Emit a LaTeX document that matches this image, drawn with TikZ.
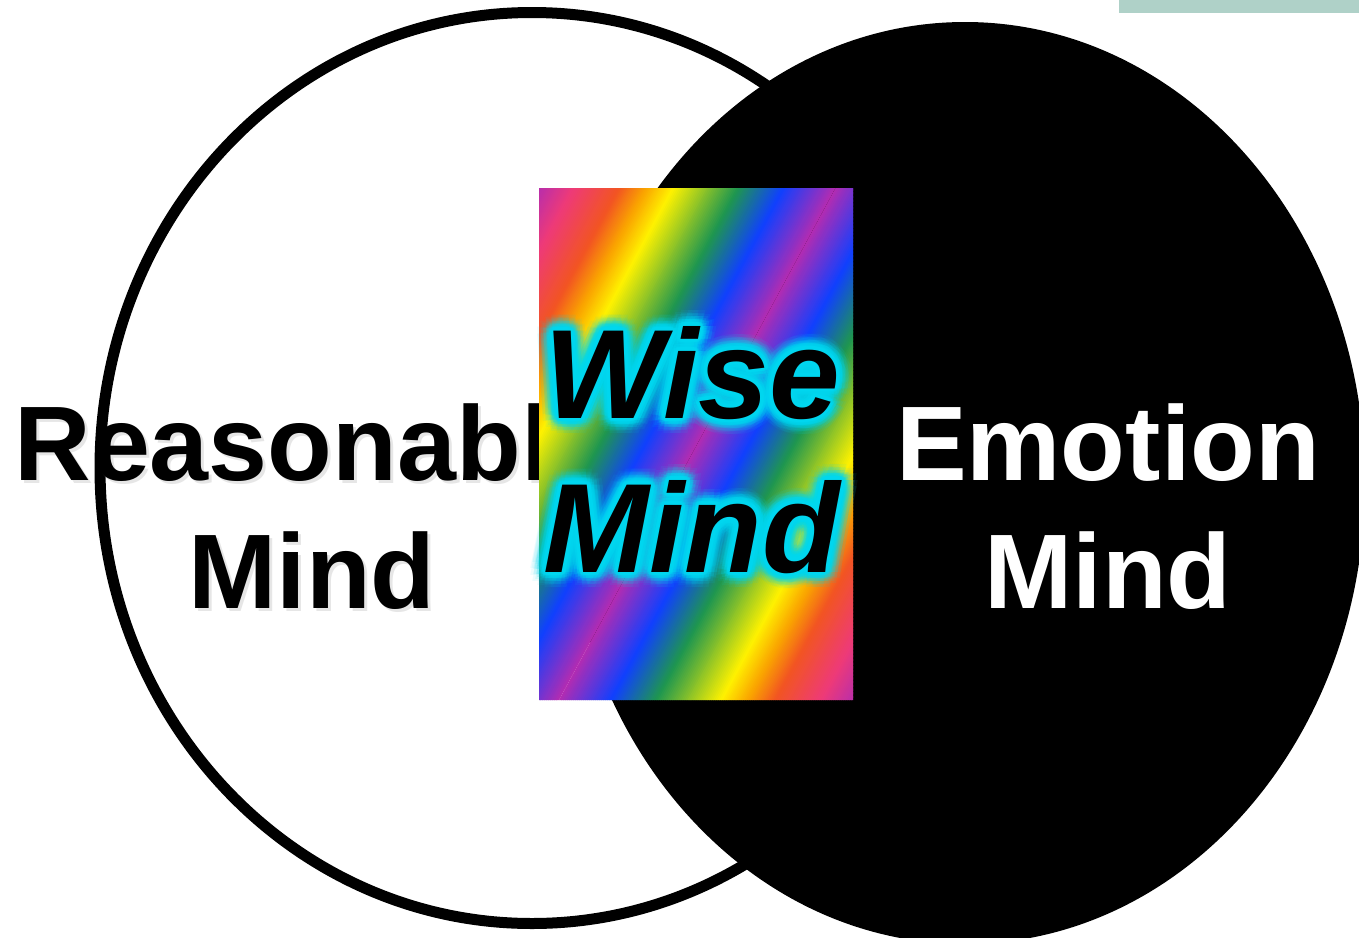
\documentclass[tikz,border=0pt]{standalone}
\usepackage{fontspec}
\setmainfont{Liberation Sans}
\definecolor{rbM}{RGB}{178,44,178}
\definecolor{rbB}{RGB}{16,64,255}
\definecolor{rbG}{RGB}{30,150,80}
\definecolor{rbY}{RGB}{255,242,0}
\definecolor{rbO}{RGB}{250,165,0}
\definecolor{rbR}{RGB}{242,85,34}
\definecolor{rbP}{RGB}{238,58,120}
\definecolor{glowc}{RGB}{0,215,240}
\definecolor{tealbar}{RGB}{175,209,200}
\definecolor{shadowc}{RGB}{200,200,200}
\tikzset{
  bigtxt/.style={font=\fontsize{106}{106}\selectfont\bfseries, anchor=base, inner sep=0pt},
  wisetxt/.style={font=\fontsize{127}{127}\selectfont\bfseries\itshape, anchor=base, inner sep=0pt},
  ringline/.style={draw=black, fill=white, line width=11pt},
}
\begin{document}
\begin{tikzpicture}[x=1pt,y=-1pt]
\useasboundingbox (0,0) rectangle (1359,937);
\fill[white] (0,0) rectangle (1359,937);
% circles
\path[ringline] (532,468) ellipse [x radius=432, y radius=455.5];
\fill[black] (965,483) ellipse [x radius=400, y radius=461];
% reasonable mind
\node[bigtxt, text=shadowc, opacity=0.45] (rs1) at (315,483) {Reasonable};
\node[bigtxt, text=shadowc, opacity=0.45] (rs2) at (315,611) {Mind};
\node[bigtxt] (r1) at (312,480) {Reasonable};
\node[bigtxt] (r2) at (312,608) {Mind};
% emotion mind
\node[bigtxt, text=white] (e1) at (1108,480) {Emotion};
\node[bigtxt, text=white] (e2) at (1108,608) {Mind};
% rainbow rectangle
\begin{scope}
\clip (539,188) rectangle (853,700);
\def\cc{937}
\foreach \sa/\sb/\ca/\cb in {0/52/rbM/rbB, 52/97/rbB/rbG, 97/162/rbG/rbY, 162/189/rbY/rbO, 189/216/rbO/rbR, 216/262/rbR/rbP, 262/300/rbP/rbM}{
  \pgfmathsetmacro\nn{int(ceil((\sb-\sa)/2))}
  \foreach \i in {1,...,\nn}{
    \pgfmathsetmacro\pa{\sa+(\i-1)*(\sb-\sa)/\nn}
    \pgfmathsetmacro\pb{\sa+\i*(\sb-\sa)/\nn+1}
    \pgfmathsetmacro\pct{int((\i-0.5)/\nn*100)}
    \colorlet{stripc}{\cb!\pct!\ca}
    \fill[stripc] ({\cc+\pa-101.52},188) -- ({\cc+\pb-101.52},188) -- ({\cc+\pb-378},700) -- ({\cc+\pa-378},700) -- cycle;
    \fill[stripc] ({\cc-\pb-101.52},188) -- ({\cc-\pa-101.52},188) -- ({\cc-\pa-378},700) -- ({\cc-\pb-378},700) -- cycle;
  }
}
\end{scope}
% glow
\foreach \r/\op in {16/0.07, 13/0.1, 10/0.16, 7/0.28, 4/0.5}{
  \foreach \a in {0,24,...,336}{
    \node[wisetxt, text=glowc, opacity=\op] (gw\r-\a) at ({692+\r*cos(\a)},{418+\r*sin(\a)}) {Wise};
    \node[wisetxt, text=glowc, opacity=\op] (gm\r-\a) at ({692+\r*cos(\a)},{572+\r*sin(\a)}) {Mind};
  }
}
\node[wisetxt] (w1) at (692,418) {Wise};
\node[wisetxt] (w2) at (692,572) {Mind};
% teal bar
\fill[tealbar] (1119,0) rectangle (1359,12.5);
\end{tikzpicture}
\end{document}
